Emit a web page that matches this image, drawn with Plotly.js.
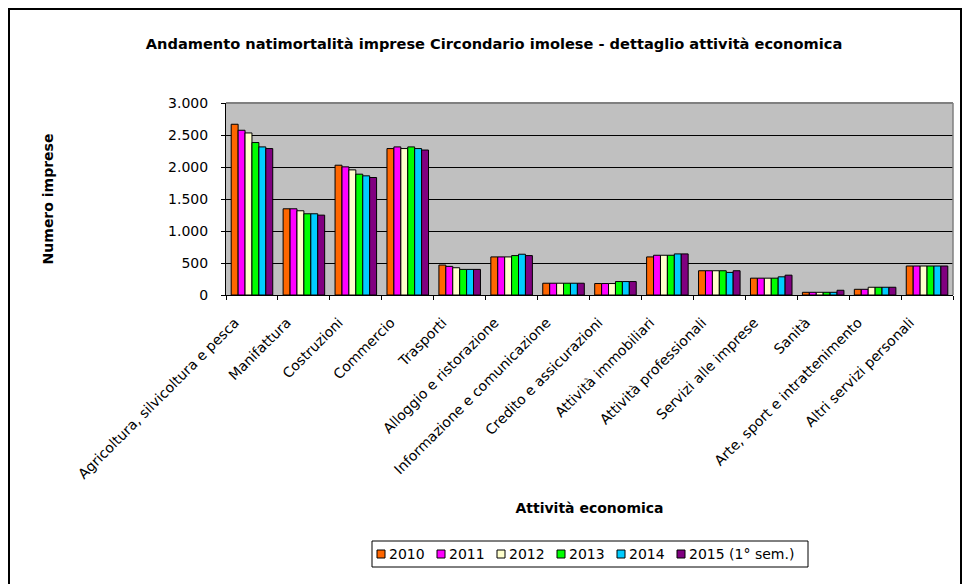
<!DOCTYPE html>
<html>
<head>
<meta charset="utf-8">
<script src="https://cdn.plot.ly/plotly-3.0.1.min.js"></script>
<style>
  html, body { margin: 0; padding: 0; background: #ffffff; }
  #chart { width: 968px; height: 584px; }
</style>
</head>
<body>
<div id="chart"></div>
<script>
// ---- data ----
const categories = [
  "Agricoltura, silvicoltura e pesca",
  "Manifattura",
  "Costruzioni",
  "Commercio",
  "Trasporti",
  "Alloggio e ristorazione",
  "Informazione e comunicazione",
  "Credito e assicurazioni",
  "Attività immobiliari",
  "Attività professionali",
  "Servizi alle imprese",
  "Sanità",
  "Arte, sport e intrattenimento",
  "Altri servizi personali"
];
const seriesNames = ["2010", "2011", "2012", "2013", "2014", "2015 (1° sem.)"];
const v2010 = [2668, 1347, 2028, 2288, 468, 595, 184, 179, 595, 379, 263, 42, 89, 453];
const v2011 = [2574, 1347, 2002, 2314, 447, 595, 184, 179, 621, 379, 263, 42, 89, 453];
const v2012 = [2532, 1316, 1955, 2288, 426, 595, 184, 179, 621, 379, 263, 42, 121, 453];
const v2013 = [2382, 1269, 1888, 2314, 400, 616, 184, 210, 621, 379, 263, 42, 121, 453];
const v2014 = [2314, 1269, 1862, 2288, 400, 637, 184, 210, 642, 353, 284, 42, 121, 453];
const v2015 = [2288, 1248, 1836, 2265, 400, 616, 184, 210, 642, 379, 310, 74, 121, 453];
const seriesValues = [v2010, v2011, v2012, v2013, v2014, v2015];
const seriesColors = ["#FF6600", "#FF00FF", "#FFFFCC", "#00FF00", "#00CCFF", "#800080"];
const yTicks = [0, 500, 1000, 1500, 2000, 2500, 3000];

// ---- layout geometry (pixels) ----
const W = 968, H = 584;
const M = { l: 226, r: 15, t: 103, b: 289 };
const plotW = W - M.l - M.r, plotH = H - M.t - M.b;
const px = x => (x - M.l) / plotW;            // pixel x -> paper x
const py = y => (H - M.b - y) / plotH;        // pixel y -> paper y

const FONT = "DejaVu Sans, Arial, sans-serif";

const traces = seriesValues.map((vals, i) => ({
  type: "bar",
  name: seriesNames[i],
  x: categories,
  y: vals,
  marker: { color: seriesColors[i], line: { color: "#000000", width: 1 } },
  showlegend: false,
  hoverinfo: "x+y+name"
}));

const shapes = [
  // outer chart border
  { type: "rect", xref: "paper", yref: "paper", x0: px(9), x1: px(961), y0: py(590), y1: py(9),
    line: { color: "#000000", width: 2 }, fillcolor: "rgba(0,0,0,0)", layer: "above" },
  // plot area top / right border (gray)
  { type: "line", xref: "paper", yref: "paper", x0: 0, x1: 1, y0: 1, y1: 1,
    line: { color: "#808080", width: 2 }, layer: "above" },
  { type: "line", xref: "paper", yref: "paper", x0: 1, x1: 1, y0: 0, y1: 1,
    line: { color: "#808080", width: 1.5 }, layer: "above" },
  // legend box
  { type: "rect", xref: "paper", yref: "paper", x0: px(372), x1: px(808), y0: py(567), y1: py(541),
    line: { color: "#000000", width: 1 }, fillcolor: "#ffffff", layer: "above" }
];
const annotations = [];
const legendStart = 377, legendStep = 60, swatch = 8, legendCy = 554;
seriesNames.forEach((name, i) => {
  const sx = legendStart + i * legendStep;
  shapes.push({ type: "rect", xref: "paper", yref: "paper",
    x0: px(sx), x1: px(sx + swatch), y0: py(legendCy + swatch / 2), y1: py(legendCy - swatch / 2),
    line: { color: "#000000", width: 1 }, fillcolor: seriesColors[i], layer: "above" });
  annotations.push({ xref: "paper", yref: "paper", x: px(sx + swatch + 2), y: py(legendCy),
    xanchor: "left", yanchor: "middle", showarrow: false, text: name,
    font: { family: FONT, size: 14, color: "#000000" } });
});

const layout = {
  width: W, height: H,
  margin: M,
  paper_bgcolor: "#ffffff",
  plot_bgcolor: "#C0C0C0",
  separators: ",.",
  font: { family: FONT, size: 14, color: "#000000" },
  title: {
    text: "<b>Andamento natimortalità imprese Circondario imolese - dettaglio attività economica</b>",
    x: 494 / W, xanchor: "center", y: 1 - 44 / H, yanchor: "middle",
    font: { family: FONT, size: 14.6, color: "#000000" }
  },
  barmode: "group",
  bargap: 0.2,
  bargroupgap: 0,
  showlegend: false,
  xaxis: {
    type: "category",
    tickangle: -45,
    tickson: "boundaries",
    ticks: "outside", ticklen: 4, tickcolor: "#000000", tickwidth: 1,
    ticklabelstandoff: 13,
    ticklabelshift: -17,
    showline: true, linecolor: "#000000", linewidth: 1,
    showgrid: false, zeroline: false,
    tickfont: { family: FONT, size: 14, color: "#000000" },
    automargin: false,
    title: { text: "<b>Attività economica</b>", standoff: 22,
      font: { family: FONT, size: 14, color: "#000000" } }
  },
  yaxis: {
    range: [0, 3000],
    tickvals: yTicks,
    tickformat: ",d",
    ticks: "outside", ticklen: 4, tickcolor: "#000000", tickwidth: 1,
    ticklabelstandoff: 10,
    showline: true, linecolor: "#000000", linewidth: 1,
    showgrid: true, gridcolor: "#000000", gridwidth: 1,
    zeroline: false,
    tickfont: { family: FONT, size: 14, color: "#000000" },
    automargin: false,
    title: { text: "<b>Numero imprese</b>", standoff: 111,
      font: { family: FONT, size: 14, color: "#000000" } }
  },
  shapes: shapes,
  annotations: annotations
};

Plotly.newPlot("chart", traces, layout, { displayModeBar: false, staticPlot: true });
</script>
</body>
</html>
